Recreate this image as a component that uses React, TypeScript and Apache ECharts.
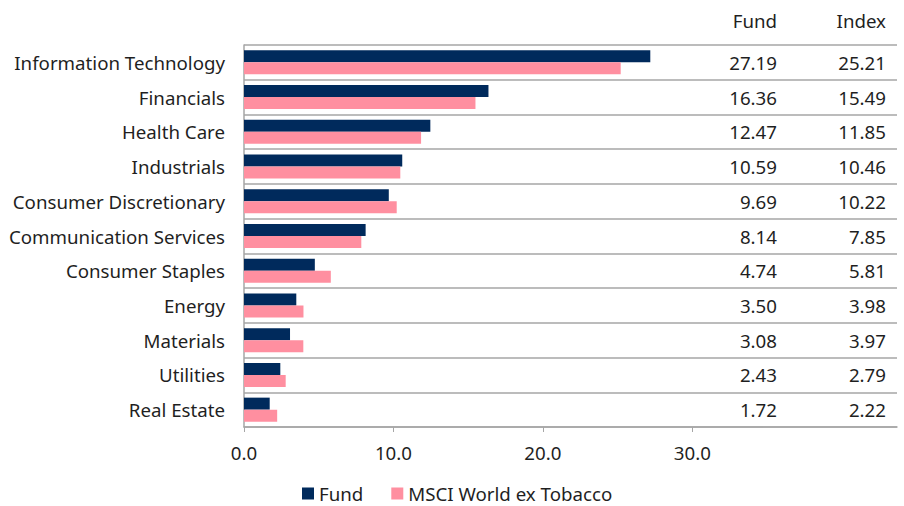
import React, { useEffect, useRef } from "react";
import * as echarts from "echarts";

const categories = [
  "Information Technology",
  "Financials",
  "Health Care",
  "Industrials",
  "Consumer Discretionary",
  "Communication Services",
  "Consumer Staples",
  "Energy",
  "Materials",
  "Utilities",
  "Real Estate",
];
const fundValues = [27.19, 16.36, 12.47, 10.59, 9.69, 8.14, 4.74, 3.5, 3.08, 2.43, 1.72];
const indexValues = [25.21, 15.49, 11.85, 10.46, 10.22, 7.85, 5.81, 3.98, 3.97, 2.79, 2.22];
const seriesNames = ["Fund", "MSCI World ex Tobacco"];
const tableHeaders = ["Fund", "Index"];
const xTicks = [0, 10, 20, 30];

const FONT = "'Noto Sans', 'Open Sans', sans-serif";
const TEXT = "#1f1f1f";
const GRID = "#a6a6a6";
const NAVY = "#002a5c";
const PINK = "#ff8fa0";
const FS = 18.7;

export default function App() {
  const ref = useRef<HTMLDivElement>(null);
  useEffect(() => {
    if (!ref.current) return;
    const chart = echarts.init(ref.current, undefined, { renderer: "svg" });
    const catAxisBase = {
      type: "category" as const,
      data: categories,
      inverse: true,
      axisTick: { show: false },
    };
    chart.setOption({
      animation: false,
      textStyle: { fontFamily: FONT },
      grid: { left: 244, right: 7, top: 45, bottom: 79, containLabel: false },
      legend: {
        bottom: 3,
        left: 302,
        padding: 0,
        itemWidth: 12,
        itemHeight: 12,
        itemGap: 28,
        icon: "rect",
        textStyle: { fontSize: FS, color: TEXT, fontFamily: FONT },
        data: seriesNames,
      },
      xAxis: {
        type: "value",
        min: 0,
        max: 43.7,
        interval: 10,
        splitLine: { show: false },
        axisLine: { show: true, lineStyle: { color: GRID, width: 1.5 } },
        axisTick: { show: true, length: 5, lineStyle: { color: GRID }, customValues: xTicks },
        axisLabel: {
          color: TEXT,
          fontSize: FS,
          margin: 16,
          customValues: xTicks,
          formatter: (v: number) => v.toFixed(1),
        },
      },
      yAxis: [
        {
          ...catAxisBase,
          position: "left",
          axisLine: { show: true, lineStyle: { color: GRID, width: 1.5 } },
          splitLine: { show: true, lineStyle: { color: GRID, width: 1.5 } },
          axisLabel: { color: TEXT, fontSize: 18.7, margin: 19, fontFamily: FONT },
        },
        {
          ...catAxisBase,
          data: fundValues.map((v) => v.toFixed(2)),
          position: "right",
          offset: -128,
          axisLine: { show: false },
          splitLine: { show: false },
          axisLabel: { color: TEXT, fontSize: FS, margin: 8, align: "right", fontFamily: FONT },
        },
        {
          ...catAxisBase,
          data: indexValues.map((v) => v.toFixed(2)),
          position: "right",
          offset: -19,
          axisLine: { show: false },
          splitLine: { show: false },
          axisLabel: { color: TEXT, fontSize: FS, margin: 8, align: "right", fontFamily: FONT },
        },
      ],
      graphic: [
        {
          type: "text",
          right: 904 - 777,
          top: 11,
          style: { text: tableHeaders[0], font: `${FS}px ${FONT}`, fill: TEXT },
        },
        {
          type: "text",
          right: 904 - 886,
          top: 11,
          style: { text: tableHeaders[1], font: `${FS}px ${FONT}`, fill: TEXT },
        },
      ],
      series: [
        {
          name: seriesNames[0],
          type: "bar",
          yAxisIndex: 0,
          data: fundValues,
          barWidth: 12,
          barGap: "0%",
          itemStyle: { color: NAVY },
        },
        {
          name: seriesNames[1],
          type: "bar",
          yAxisIndex: 0,
          data: indexValues,
          barWidth: 12,
          barGap: "0%",
          itemStyle: { color: PINK },
        },
      ],
    });
    return () => chart.dispose();
  }, []);
  return (
    <div
      ref={ref}
      style={{ position: "fixed", left: 0, top: 0, width: 904, height: 506, background: "#fff" }}
    />
  );
}
